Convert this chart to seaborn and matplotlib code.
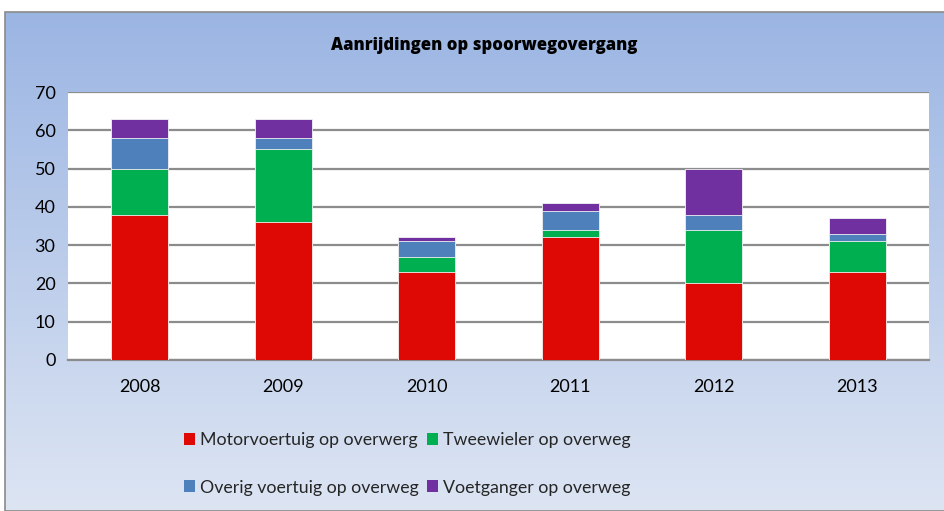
import numpy as np
import pandas as pd
import matplotlib
matplotlib.use("Agg")
import matplotlib.pyplot as plt
from matplotlib.patches import Patch, Rectangle
import seaborn as sns

years = ["2008", "2009", "2010", "2011", "2012", "2013"]
motorvoertuig = [38, 36, 23, 32, 20, 23]
tweewieler = [12, 19, 4, 2, 14, 8]
overig = [8, 3, 4, 5, 4, 2]
voetganger = [5, 5, 1, 2, 12, 4]

labels = ["Motorvoertuig op overwerg", "Tweewieler op overweg",
          "Overig voertuig op overweg", "Voetganger op overweg"]
colors = ["#DE0805", "#00AF50", "#4E80BC", "#7030A0"]
y_ticks = [0, 10, 20, 30, 40, 50, 60, 70]

sns.set_theme(style="white")
plt.rcParams["font.family"] = ["Lato", "DejaVu Sans"]

W, H = 945, 511
fig = plt.figure(figsize=(W / 100, H / 100), dpi=100)
fig.patch.set_facecolor("white")

# gradient backdrop of the chart frame
bg = fig.add_axes([0, 0, 1, 1], zorder=-5)
bg.set_xlim(0, W)
bg.set_ylim(H, 0)
bg.axis("off")
grad = np.linspace(0, 1, 256).reshape(-1, 1)
top = np.array([0x9B, 0xB5, 0xE3]) / 255
bot = np.array([0xDD, 0xE5, 0xF3]) / 255
img = top[None, None, :] * (1 - grad[:, :, None]) + bot[None, None, :] * grad[:, :, None]
bg.imshow(img, extent=[5, W, H, 12], aspect="auto")
bg.add_patch(Rectangle((5, 12), W - 5, H - 12, fill=False, edgecolor="#8A8A8A", lw=1.2))

# plot area
left, right, top_px, bottom_px = 68, 929, 92, 360
ax = fig.add_axes([left / W, 1 - bottom_px / H, (right - left) / W, (bottom_px - top_px) / H])
ax.set_facecolor("white")

df = pd.DataFrame({"year": years, "m": motorvoertuig, "t": tweewieler,
                   "o": overig, "v": voetganger})
cum = df[["m", "t", "o", "v"]].cumsum(axis=1)

# stacked bars: draw cumulative totals from the top segment down
for col, c in zip(["v", "o", "t", "m"], colors[::-1]):
    sns.barplot(x=df["year"], y=cum[col], color=c, saturation=1, width=0.4,
                edgecolor="#F2F2F2", linewidth=0.6, ax=ax, zorder=3)

ax.set_ylim(0, 70)
ax.set_yticks(y_ticks)
ax.set_yticklabels([str(t) for t in y_ticks])
ax.grid(axis="y", color="#8C8C8C", linewidth=1.6, zorder=0)
ax.set_axisbelow(True)
for s in ["top", "right", "left"]:
    ax.spines[s].set_visible(False)
ax.spines["bottom"].set_color("#8C8C8C")
ax.spines["bottom"].set_linewidth(1.6)
ax.set_xlabel("")
ax.set_ylabel("")
ax.tick_params(axis="both", length=0, labelsize=13, colors="black")
ax.tick_params(axis="y", pad=9)
ax.tick_params(axis="x", pad=14)

fig.text(484 / W, 1 - 45 / H, "Aanrijdingen op spoorwegovergang", ha="center",
         va="center", fontsize=12, fontweight="heavy", color="black",
         family=["Liberation Sans Narrow", "Open Sans", "DejaVu Sans"])

# legend filled column-wise, so reorder to get two entries per row
order = [0, 2, 1, 3]
handles = [Patch(facecolor=colors[i], edgecolor="none") for i in order]
leg = fig.legend(handles, [labels[i] for i in order], ncol=2, loc="center",
                 bbox_to_anchor=(407 / W, 1 - 464 / H), frameon=False,
                 fontsize=12.8, handlelength=0.65, handleheight=0.65,
                 handletextpad=0.25, columnspacing=0.45, labelspacing=1.75)

fig.savefig("out.png", dpi=100)
